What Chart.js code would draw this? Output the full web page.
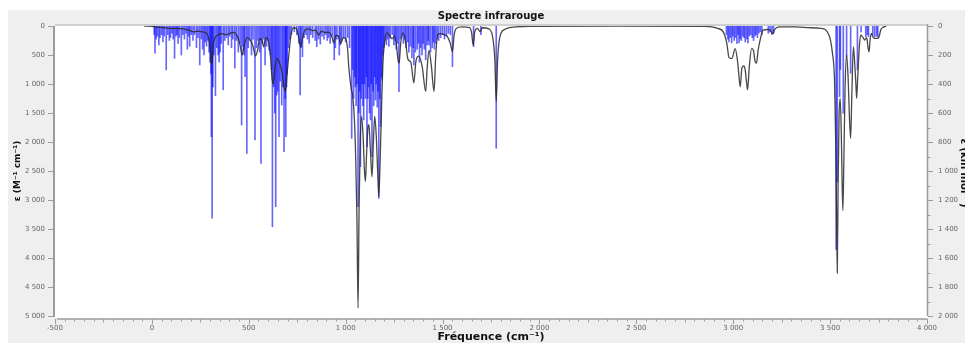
<!DOCTYPE html>
<html><head><meta charset="utf-8">
<script src="https://cdn.jsdelivr.net/npm/chart.js@4.4.1/dist/chart.umd.min.js"></script>
<style>html,body{margin:0;padding:0;background:#fff;}canvas{display:block;}</style>
</head><body>
<canvas id="c" width="965" height="343"></canvas>
<script>
// ---- Axis ticks ----
const xTickVals = [-500, 0, 500, 1000, 1500, 2000, 2500, 3000, 3500, 4000];
const xTickLabels = ['-500', '0', '500', '1 000', '1 500', '2 000', '2 500', '3 000', '3 500', '4 000'];
const yTickVals = [0, 500, 1000, 1500, 2000, 2500, 3000, 3500, 4000, 4500, 5000];
const yTickLabels = ['0', '500', '1 000', '1 500', '2 000', '2 500', '3 000', '3 500', '4 000', '4 500', '5 000'];
const y2TickVals = [0, 200, 400, 600, 800, 1000, 1200, 1400, 1600, 1800, 2000];
const y2TickLabels = ['0', '200', '400', '600', '800', '1 000', '1 200', '1 400', '1 600', '1 800', '2 000'];

// ---- Stick spectrum (right axis) ----
const stickFreqA = [12,16,22,28,36,42,50,57,64,74,82,90,96,104,110,117,124,130,135,142,152,160,168,176,183,190,195,203,212,220,230,238,247,255,262,269,275,282,288,295,300,305,307,311,315,320,328,335,342,347,352,358,368,376,385,394,402,411,418,428,436,446,455,463,470,476,481,490,497,505,514,522,532,540,548,556,563,570,577,584,592,598,605,612,618,622,628,634,639,644,650,656,662,670,676,682,688,691,695,698,705,712,720,735,748,758,765,770,777,785,795,803,812,820,830,843,851,860,869,878,888,897,905,912,920,930,941,947,955,967,973,980,990];
const stickIntA  = [60,188,90,70,131,80,60,110,70,303,60,100,80,50,90,223,70,60,120,80,200,60,90,50,160,70,140,60,100,60,150,80,269,90,160,200,110,140,100,180,250,330,763,1326,420,200,480,150,200,250,180,120,440,100,80,130,70,150,90,290,100,180,120,683,140,200,349,878,150,100,200,90,786,150,100,180,947,120,90,269,140,100,166,200,300,1384,420,600,1246,476,450,763,380,545,420,867,500,763,420,330,150,90,60,40,60,120,476,150,212,80,60,90,120,60,80,100,143,90,125,70,90,60,100,80,120,70,234,150,90,200,130,100,80];
const stickFreqB = [1000,1011,1020,1031,1036,1041,1046,1050,1054,1058,1064,1068,1072,1076,1080,1085,1089,1093,1097,1102,1106,1110,1114,1118,1123,1128,1132,1136,1141,1145,1150,1154,1158,1163,1167,1171,1176,1180,1184,1188,1193,1197,1203,1210,1216,1223,1230,1240,1249,1255,1261,1268,1275,1283,1290,1298,1306,1312,1320,1326,1334,1342,1348,1352,1360,1369,1375,1381,1387,1394,1400,1406,1413,1420,1426,1430,1438,1447,1452,1458,1464,1472,1480,1490,1500,1510,1520,1530,1540,1551];
const stickIntB  = [110,80,150,775,300,500,350,420,550,400,1246,600,450,970,500,400,550,648,400,500,350,832,500,420,600,648,400,901,450,550,350,510,400,560,450,1189,500,694,350,372,200,150,100,130,90,140,80,60,130,100,160,120,453,90,70,120,90,150,110,180,140,220,150,269,180,160,120,250,150,200,120,160,234,130,100,130,180,150,110,160,120,90,100,80,60,90,70,50,60,280];
const stickFreqC = [1660,1698,1777];
const stickIntC  = [143,60,843];
const stickFreqD = [2965,2972,2978,2985,2992,2998,3005,3012,3019,3025,3030,3036,3042,3050,3056,3062,3070,3076,3083,3090,3098,3105,3112,3118,3125,3132,3140,3148,3181,3190,3200,3208];
const stickIntD  = [60,90,110,80,117,70,100,80,120,60,117,90,100,70,80,110,90,117,70,60,80,100,70,60,80,50,40,60,50,40,60,50];
const stickFreqE = [3531,3537,3549,3553,3568,3585,3606,3641,3660,3684,3692,3698,3720,3730,3740,3746];
const stickIntE  = [1540,1074,487,300,602,212,326,303,40,74,60,74,60,75,70,75];

// ---- Broadened spectrum (left axis, epsilon) ----
const specFreqLow = [-40,0,20,50,80,110,150,190,215,235,260,285,298,306,310,316,326,340,360,380,400,420,440,455,466,476,490,505,520,535,545,556,568,577,588,600,612,620,626,634,645,660,672,682,689,697,708,718,730,745,758,768,778,790,810,830,845,860,875,895,915,930,938,950,962,975,988,1000,1010];
const specEpsLow  = [0,5,20,25,35,40,45,70,100,90,100,140,300,600,670,350,200,160,130,150,130,110,170,330,500,340,200,230,330,520,420,220,240,360,200,240,520,900,1000,750,560,650,800,1050,1130,850,450,150,30,40,200,360,200,70,50,80,70,155,90,110,110,200,290,160,170,300,200,220,400];
const specFreqMid = [1016,1028,1036,1045,1052,1058,1064,1069,1075,1082,1090,1097,1102,1108,1115,1120,1127,1136,1143,1150,1158,1165,1171,1178,1186,1193,1200,1212,1225,1240,1252,1262,1271,1276,1284,1295,1308,1322,1336,1352,1362,1376,1395,1413,1421,1430,1442,1456,1465,1475,1490,1508,1524,1540,1551,1560,1572,1600,1640,1650,1658,1666,1680,1694,1705,1740,1760,1770,1777,1784,1794,1820,1880,1950,2400,2850];
const specEpsMid  = [700,1070,1200,1600,2300,3300,4860,3200,2000,1560,1900,2500,2680,2200,1750,1700,2100,2600,2000,1560,1900,2500,2940,2300,1300,600,300,120,160,220,170,330,600,640,300,120,250,580,620,980,620,520,700,1130,700,420,680,1130,500,150,130,150,180,300,440,150,40,15,30,120,330,100,40,100,30,50,220,600,1300,600,220,60,15,5,0,5];
const specFreqHigh = [2920,2950,2967,2978,2993,3010,3022,3028,3036,3045,3055,3062,3068,3074,3083,3095,3105,3112,3120,3128,3137,3154,3175,3190,3200,3206,3214,3240,3320,3400,3451,3494,3511,3523,3529,3533,3537,3541,3546,3552,3558,3562,3566,3571,3577,3585,3593,3600,3606,3612,3620,3628,3633,3637,3643,3650,3658,3670,3679,3689,3696,3701,3706,3712,3722,3730,3745,3753,3762,3775,3790];
const specEpsHigh  = [40,110,300,540,560,390,600,800,1050,720,690,760,950,1100,700,385,430,600,640,430,270,70,60,70,120,130,60,15,15,30,40,155,443,960,2000,3200,4260,2800,1600,1250,1900,2700,3180,2300,1100,500,900,1600,1935,1200,357,700,1000,1247,850,400,155,200,241,200,380,443,250,126,190,212,212,180,60,20,0];

const stickFreq = [].concat(stickFreqA, stickFreqB, stickFreqC, stickFreqD, stickFreqE);
const stickInt  = [].concat(stickIntA, stickIntB, stickIntC, stickIntD, stickIntE);
const specFreq = [].concat(specFreqLow, specFreqMid, specFreqHigh);
const specEps  = [].concat(specEpsLow, specEpsMid, specEpsHigh);

const sticks = stickFreq.map((f, i) => ({x: f, y: stickInt[i]}));
const spectrum = specFreq.map((f, i) => ({x: f, y: specEps[i]}));

const FONT = "'DejaVu Sans', Verdana, sans-serif";

function line(ctx, x1, y1, x2, y2) { ctx.beginPath(); ctx.moveTo(x1, y1); ctx.lineTo(x2, y2); ctx.stroke(); }

const framePlugin = {
  id: 'frame',
  beforeDraw(chart) {
    const ctx = chart.ctx, a = chart.chartArea;
    ctx.save();
    ctx.fillStyle = '#ffffff'; ctx.fillRect(0, 0, chart.width, chart.height);
    ctx.fillStyle = '#efefef'; ctx.fillRect(8, 10, chart.width - 8, chart.height - 10);
    ctx.fillStyle = '#ffffff'; ctx.fillRect(a.left, a.top, a.right - a.left, a.bottom - a.top + 2);
    ctx.restore();
  },
  afterDraw(chart) {
    const ctx = chart.ctx, a = chart.chartArea;
    const sx = chart.scales.x, sy = chart.scales.y, sy2 = chart.scales.y2;
    ctx.save();
    // top separator
    ctx.strokeStyle = '#c4c4c4'; ctx.lineWidth = 1.5;
    line(ctx, a.left, a.top - 1, a.right, a.top - 1);
    ctx.strokeStyle = '#9c9c9c';
    // left axis
    ctx.lineWidth = 2;
    line(ctx, a.left - 1, a.top, a.left - 1, a.bottom + 1);
    ctx.lineWidth = 1;
    yTickVals.forEach(v => { const p = Math.round(sy.getPixelForValue(v)) + 0.5; line(ctx, a.left - 7, p, a.left - 1, p); });
    // bottom axis
    ctx.lineWidth = 1.5;
    line(ctx, a.left + 2, a.bottom + 3, a.right, a.bottom + 3);
    ctx.lineWidth = 1;
    for (let v = -500; v <= 4000; v += 50) {
      const p = Math.round(sx.getPixelForValue(v)) + 0.5;
      const len = v % 500 === 0 ? 5 : (v % 250 === 0 ? 3.5 : 2.5);
      line(ctx, p, a.bottom + 3, p, a.bottom + 3 + len);
    }
    // right axis
    ctx.lineWidth = 1.5;
    line(ctx, a.right + 0.5, a.top - 2, a.right + 0.5, a.bottom);
    ctx.lineWidth = 1;
    for (let v = 0; v <= 2000; v += 100) {
      const p = Math.round(sy2.getPixelForValue(v)) + 0.5;
      line(ctx, a.right + 1, p, a.right + (v % 200 === 0 ? 6 : 3.5), p);
    }
    // titles
    ctx.fillStyle = '#111';
    ctx.textAlign = 'center'; ctx.textBaseline = 'middle';
    ctx.font = 'bold 10px ' + FONT;
    ctx.fillText('Spectre infrarouge', (a.left + a.right) / 2, 16.5);
    ctx.font = 'bold 11px ' + FONT;
    ctx.fillText('Fréquence (cm⁻¹)', (a.left + a.right) / 2, 337);
    ctx.save();
    ctx.translate(18, (a.top + a.bottom) / 2);
    ctx.rotate(-Math.PI / 2);
    ctx.font = 'bold 9px ' + FONT;
    ctx.fillText('ε (M⁻¹ cm⁻¹)', 0, 0);
    ctx.restore();
    ctx.save();
    ctx.translate(961, (a.top + a.bottom) / 2 + 2);
    ctx.rotate(Math.PI / 2);
    ctx.textBaseline = 'alphabetic';
    ctx.font = 'bold 10px ' + FONT;
    ctx.fillText('ε (km mol⁻¹)', 0, 0);
    ctx.restore();
    ctx.restore();
  }
};

const tickFont = {family: FONT, size: 7};
new Chart(document.getElementById('c'), {
  type: 'line',
  data: {
    datasets: [
      {
        type: 'line', label: 'Spectre', data: spectrum, yAxisID: 'y', xAxisID: 'x',
        borderColor: 'rgba(40,40,40,0.85)', borderWidth: 1.3, pointRadius: 0,
        cubicInterpolationMode: 'monotone', fill: false, order: 1
      },
      {
        type: 'bar', label: 'Bâtons', data: sticks, yAxisID: 'y2', xAxisID: 'x',
        backgroundColor: 'rgba(0,0,255,0.6)', borderWidth: 0, barThickness: 1, grouped: false, order: 2
      }
    ]
  },
  options: {
    responsive: false, animation: false, devicePixelRatio: 1,
    events: [],
    layout: {padding: {top: 26, left: 0, right: 0, bottom: 0}},
    plugins: {legend: {display: false}, title: {display: false}, tooltip: {enabled: false}},
    scales: {
      x: {
        type: 'linear', position: 'bottom', min: -500, max: 4000, offset: false,
        grid: {display: false, drawTicks: false, offset: false}, border: {display: false},
        afterBuildTicks: s => { s.ticks = xTickVals.map(v => ({value: v})); },
        afterFit: s => { s.height = 27; },
        ticks: {autoSkip: false, maxRotation: 0, font: tickFont, color: '#666', padding: 8,
                callback: (v, i) => xTickLabels[i]}
      },
      y: {
        type: 'linear', position: 'left', min: 0, max: 5000, reverse: true,
        grid: {display: false, drawTicks: false}, border: {display: false},
        afterBuildTicks: s => { s.ticks = yTickVals.map(v => ({value: v})); },
        afterFit: s => { s.width = 55; },
        ticks: {font: tickFont, color: '#666', padding: 10, callback: (v, i) => yTickLabels[i]}
      },
      y2: {
        type: 'linear', position: 'right', min: 0, max: 2000, reverse: true,
        grid: {display: false, drawTicks: false}, border: {display: false},
        afterBuildTicks: s => { s.ticks = y2TickVals.map(v => ({value: v})); },
        afterFit: s => { s.width = 38; },
        ticks: {font: tickFont, color: '#666', padding: 11, callback: (v, i) => y2TickLabels[i]}
      }
    }
  },
  plugins: [framePlugin]
});
</script>
</body></html>
